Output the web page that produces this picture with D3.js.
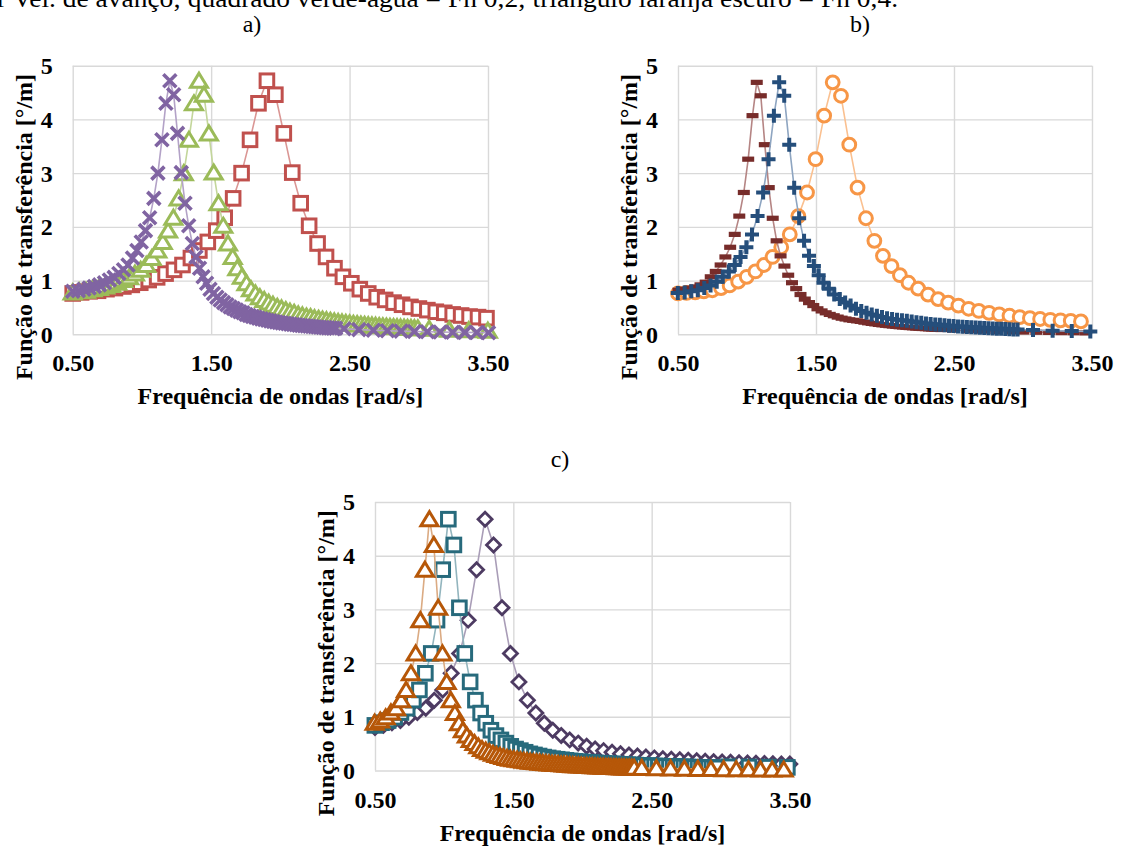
<!DOCTYPE html>
<html><head><meta charset="utf-8">
<script src="https://cdn.jsdelivr.net/npm/d3@7"></script>
<style>
body{margin:0;background:#fff}
svg{display:block}
text{font-family:"Liberation Serif","Times New Roman",serif}
</style>
</head><body>
<svg id="chart" width="1121" height="847"></svg>
<script>
// ---------- tick labels ----------
const xTicks = [0.5, 1.5, 2.5, 3.5];
const xTickLabels = ["0.50", "1.50", "2.50", "3.50"];
const yTicks = [0, 1, 2, 3, 4, 5];
const xTitle = "Frequência de ondas [rad/s]";
const yTitle = "Função de transferência [°/m]";

// ---------- panel a) ----------
const aY = [0.76,0.78,0.80,0.81,0.84,0.86,0.89,0.92,0.96,1.01,
 1.06,1.13,1.20,1.29,1.42,1.56,1.72,1.93,2.17,2.53,
 3.00,3.62,4.30,4.72,4.46,3.74,3.01,2.44,2.02,1.69,
 1.44,1.23,1.07,0.95,0.84,0.76,0.69,0.64,0.59,0.55,
 0.51,0.48,0.45,0.42,0.40,0.37,0.35,0.33,0.32,0.30,
 0.287,0.274,0.262,0.250,0.240,0.230,0.221,0.212,0.204,0.196,
 0.189,0.182,0.176,0.170,0.164,0.159,0.153,0.149,0.144,0.139,
 0.135,0.131,0.127,0.124,0.120,0.117,0.114,0.111];
const aYTail = [0.102,0.087,0.076,0.067,0.059,0.053,0.048,0.043,0.039,0.036,0.033,0.030];
const aRedX = [0.500,0.561,0.622,0.683,0.744,0.805,0.866,0.927,0.988,1.049,
 1.110,1.171,1.232,1.293,1.354,1.415,1.476,1.537,1.598,1.659,
 1.720,1.781,1.842,1.903,1.964,2.025,2.086,2.147,2.208,2.269,
 2.330,2.391,2.452,2.513,2.574,2.635,2.696,2.757,2.818,2.879,
 2.940,3.001,3.062,3.123,3.184,3.245,3.306,3.367,3.428,3.489];
const aGreenX = [0.4996,0.5481,0.5957,0.6425,0.6884,0.7336,0.7781,0.8219,0.8650,0.9074,
 0.9493,0.9906,1.0313,1.0715,1.1112,1.1504,1.1891,1.2274,1.2652,1.3026,
 1.3396,1.3761,1.4123,1.4481,1.4836,1.5187,1.5534,1.5878,1.6219,1.6557,
 1.6891,1.7223,1.7552,1.7878,1.8201,1.8521,1.8839,1.9154,1.9467,1.9778,
 2.0085,2.0391,2.0695,2.0996,2.1295,2.1591,2.1886,2.2179,2.2470,2.2759,
 2.3045,2.3330,2.3613,2.3895,2.4174,2.4452,2.4728,2.5002,2.5275,2.5546,
 2.5816,2.6084,2.6350,2.6615,2.6878,2.7140,2.7401,2.7660,2.7917,2.8174,
 2.8429,2.8682,2.8935,2.9186,2.9435,2.9684,2.9931];
const aGreenTailX = [3.075,3.220,3.361,3.499];
const aPurpleX = [0.5003,0.5408,0.5803,0.6189,0.6565,0.6934,0.7294,0.7648,0.7994,0.8334,
 0.8668,0.8997,0.9319,0.9637,0.9950,1.0257,1.0560,1.0859,1.1154,1.1445,
 1.1731,1.2015,1.2294,1.2571,1.2843,1.3113,1.3380,1.3643,1.3904,1.4162,
 1.4418,1.4670,1.4921,1.5168,1.5414,1.5657,1.5898,1.6136,1.6373,1.6607,
 1.6839,1.7069,1.7298,1.7524,1.7749,1.7972,1.8193,1.8413,1.8631,1.8847,
 1.9061,1.9274,1.9486,1.9696,1.9905,2.0112,2.0317,2.0522,2.0725,2.0927,
 2.1127,2.1326,2.1524,2.1721,2.1916,2.2111,2.2304,2.2496,2.2687,2.2876,
 2.3065,2.3253,2.3439,2.3625,2.3809,2.3993];
const aPurpleTailX = [2.460,2.567,2.672,2.773,2.872,2.968,3.062,3.154,3.245,3.333,3.419,3.504];

// ---------- panel b) ----------
const bY = [0.76,0.77,0.78,0.80,0.82,0.86,0.91,0.98,1.07,1.17,
 1.29,1.44,1.62,1.86,2.20,2.64,3.26,4.07,4.69,4.44,
 3.53,2.73,2.16,1.74,1.46,1.27,1.10,0.96,0.85,0.74,
 0.655,0.59,0.535,0.475,0.435,0.40,0.37,0.345,0.32,0.30,
 0.285,0.27,0.26,0.25,0.24,0.226,0.214,0.203,0.194,0.184,
 0.176,0.168,0.161,0.154,0.147,0.141,0.136,0.130,0.125,0.121,
 0.116,0.112,0.108,0.105,0.101,0.098,0.094,0.091,0.089];
const bYTail = [0.079,0.068,0.060,0.053,0.047,0.042,0.038,0.035,0.031,0.029,0.026];
const bRedYHead = [0.82,0.84,0.86,0.88,0.92,0.97];
const bOrangeX = [0.500,0.562,0.625,0.687,0.749,0.812,0.874,0.936,0.998,1.061,
 1.123,1.185,1.248,1.310,1.372,1.435,1.497,1.559,1.621,1.681,
 1.741,1.801,1.862,1.923,1.985,2.047,2.108,2.170,2.240,2.312,
 2.385,2.458,2.532,2.606,2.680,2.754,2.828,2.902,2.976,3.050,
 3.124,3.198,3.272,3.346,3.420];
const bRedX = [0.5034,0.5446,0.5848,0.6247,0.6630,0.7005,0.7372,0.7737,0.8089,0.8435,
 0.8780,0.9113,0.9441,0.9769,1.0087,1.0399,1.0707,1.1001,1.1291,1.1577,
 1.1864,1.2147,1.2432,1.2713,1.2986,1.3260,1.3566,1.3877,1.4188,1.4495,
 1.4803,1.5106,1.5407,1.5703,1.5997,1.6287,1.6574,1.6858,1.7140,1.7418,
 1.7693,1.7966,1.8237,1.8504,1.8770,1.9033,1.9293,1.9551,1.9808,2.0062,
 2.0313,2.0563,2.0811,2.1057,2.1301,2.1543,2.1783,2.2022,2.2259,2.2494,
 2.2727,2.2959,2.3189,2.3418,2.3645,2.3870,2.4094];
const bRedTailX = [2.4942,2.6015,2.7058,2.8073,2.9061,3.0026,3.0968,3.1888,3.2791,3.3673,3.4540];
const bBlueX = [0.4986,0.5483,0.5963,0.6434,0.6904,0.7359,0.7806,0.8246,0.8686,0.9112,
 0.9533,0.9954,1.0362,1.0765,1.1169,1.1561,1.1949,1.2332,1.2698,1.3060,
 1.3419,1.3779,1.4135,1.4494,1.4848,1.5194,1.5541,1.5929,1.6325,1.6721,
 1.7113,1.7506,1.7895,1.8280,1.8660,1.9038,1.9411,1.9782,2.0148,2.0512,
 2.0872,2.1228,2.1582,2.1933,2.2281,2.2626,2.2968,2.3307,2.3644,2.3978,
 2.4310,2.4639,2.4966,2.5290,2.5612,2.5932,2.6250,2.6565,2.6878,2.7189,
 2.7498,2.7805,2.8110,2.8413,2.8714,2.9014,2.9311,2.9607];
const bBlueTailX = [3.0725,3.2147,3.3532,3.4878];

// ---------- panel c) ----------
const cY = [0.80,0.84,0.89,0.93,0.99,1.08,1.16,1.31,1.50,1.81,
 2.18,2.80,3.74,4.68,4.20,3.03,2.18,1.65,1.31,1.07,
 0.88,0.75,0.65,0.57,0.51,0.45,0.40,0.37,0.34,0.31,
 0.29,0.27,0.25,0.235,0.22,0.21,0.20,0.19,0.18,0.172,
 0.165,0.158,0.152,0.146,0.141,0.136,0.131,0.127,0.123,0.12,
 0.116,0.112,0.108,0.104,0.100,0.097,0.094,0.091,0.088,0.085,
 0.082,0.080,0.077,0.075,0.073,0.071,0.069,0.067,0.065,0.063,
 0.061,0.059,0.058,0.056,0.055,0.053,0.052,0.050];
const cYTail = [0.047,0.042,0.037,0.033,0.030,0.027,0.025,0.023,0.021,0.019,0.018,0.017];
const cTealYTail = [0.070,0.066,0.062,0.058];
const cDiamondX = [0.5000,0.5612,0.6224,0.6836,0.7448,0.8060,0.8672,0.9284,0.9896,1.0508,
 1.1120,1.1732,1.2344,1.2956,1.3568,1.4180,1.4792,1.5404,1.6016,1.6628,
 1.7240,1.7852,1.8464,1.9076,1.9688,2.0300,2.0912,2.1524,2.2136,2.2748,
 2.3360,2.3972,2.4584,2.5196,2.5808,2.6420,2.7032,2.7644,2.8256,2.8868,
 2.9480,3.0092,3.0704,3.1316,3.1928,3.2540,3.3152,3.3764,3.4376,3.4988];
const cTealX = [0.4990,0.5475,0.5951,0.6418,0.6877,0.7329,0.7773,0.8211,0.8641,0.9065,
 0.9484,0.9896,1.0302,1.0704,1.1100,1.1491,1.1877,1.2259,1.2636,1.3009,
 1.3378,1.3743,1.4103,1.4460,1.4814,1.5164,1.5510,1.5853,1.6193,1.6529,
 1.6863,1.7194,1.7521,1.7846,1.8168,1.8487,1.8804,1.9118,1.9430,1.9739,
 2.0046,2.0350,2.0653,2.0953,2.1250,2.1546,2.1840,2.2131,2.2421,2.2708,
 2.2994,2.3278,2.3560,2.3840,2.4118,2.4395,2.4669,2.4943,2.5214,2.5484,
 2.5752,2.6019,2.6284,2.6548,2.6810,2.7071,2.7330,2.7588,2.7845,2.8100,
 2.8354,2.8606,2.8857,2.9107,2.9356,2.9603,2.9849];
const cTealTailX = [3.0596,3.2038,3.3442,3.4809];
const cOrangeX = [0.4976,0.5378,0.5770,0.6152,0.6526,0.6891,0.7248,0.7598,0.7942,0.8278,
 0.8609,0.8934,0.9253,0.9567,0.9876,1.0181,1.0480,1.0776,1.1067,1.1354,
 1.1638,1.1918,1.2194,1.2467,1.2736,1.3003,1.3266,1.3527,1.3784,1.4039,
 1.4291,1.4540,1.4787,1.5032,1.5274,1.5514,1.5751,1.5987,1.6220,1.6451,
 1.6681,1.6908,1.7133,1.7357,1.7578,1.7798,1.8016,1.8233,1.8448,1.8661,
 1.8873,1.9083,1.9291,1.9498,1.9704,1.9908,2.0111,2.0313,2.0513,2.0712,
 2.0909,2.1105,2.1301,2.1495,2.1687,2.1879,2.2069,2.2258,2.2446,2.2633,
 2.2819,2.3004,2.3188,2.3371,2.3553,2.3734];
const cOrangeTailX = [2.4283,2.5339,2.6365,2.7363,2.8335,2.9283,3.0208,3.1113,3.1998,3.2865,3.3714,3.4547];

// ---------- build ----------
function pair(xs, ys, off) { return xs.map((x, i) => ({ x: x, y: ys[off + i] })); }

const bRedPts = pair(bRedX, bY, 2);
bRedYHead.forEach((v, i) => { bRedPts[i].y = v; });

const panels = [
  { label: "a)", lx: 252, ly: 32, L: 72.7, R: 488, T: 65.7, B: 334.3,
    series: [
      { pts: pair(aRedX, aY, 0), color: "#C0504D", line: "#DA9694", marker: "square" },
      { pts: pair(aGreenX, aY, 1).concat(pair(aGreenTailX, aYTail, 0)), color: "#9BBB59", line: "#C3D69B", marker: "triangle" },
      { pts: pair(aPurpleX, aY, 2).concat(pair(aPurpleTailX, aYTail, 0)), color: "#8064A2", line: "#B3A2C7", marker: "x" }
    ] },
  { label: "b)", lx: 860, ly: 32, L: 678, R: 1092, T: 65.7, B: 334.3,
    series: [
      { pts: pair(bOrangeX, bY, 0), color: "#F79646", line: "#FAC090", marker: "circle" },
      { pts: bRedPts.concat(pair(bRedTailX, bYTail, 0)), color: "#772C2A", line: "#B58584", marker: "dash" },
      { pts: pair(bBlueX, bY, 1).concat(pair(bBlueTailX, bYTail, 0)), color: "#254E7B", line: "#8EA5C1", marker: "plus" }
    ] },
  { label: "c)", lx: 560, ly: 467, L: 375, R: 790, T: 502, B: 770.5,
    series: [
      { pts: pair(cDiamondX, cY, 0), color: "#4D3B62", line: "#A99DB7", marker: "diamond" },
      { pts: pair(cTealX, cY, 1).concat(pair(cTealTailX, cTealYTail, 0)), color: "#276A7C", line: "#93B5BE", marker: "square" },
      { pts: pair(cOrangeX, cY, 2).concat(pair(cOrangeTailX, cYTail, 0)), color: "#B65708", line: "#DBAB83", marker: "triangle" }
    ] }
];

const svg = d3.select("#chart");

// caption line at the very top (partly outside the picture, as in the original)
svg.append("text").attr("x", -3).attr("y", 7).attr("font-size", 26).attr("fill", "#000")
  .attr("textLength", 901).attr("lengthAdjust", "spacingAndGlyphs")
  .text("r Vel. de avanço; quadrado verde-água = Fn 0,2; triângulo laranja escuro = Fn 0,4.");

const symbolPaths = {
  triangle: "M0,-7.5L8.5,6.5L-8.5,6.5Z",
  diamond: "M0,-7L7,0L0,7L-7,0Z"
};

panels.forEach(p => {
  const x = d3.scaleLinear().domain([0.5, 3.5]).range([p.L, p.R]);
  const y = d3.scaleLinear().domain([0, 5]).range([p.B, p.T]);
  const g = svg.append("g");
  const W = p.R - p.L, H = p.B - p.T;

  svg.append("text").attr("x", p.lx).attr("y", p.ly).attr("text-anchor", "middle")
    .attr("font-size", 24).text(p.label);

  const gy = g.append("g").attr("transform", `translate(${p.L},0)`)
    .call(d3.axisLeft(y).tickValues(yTicks).tickFormat(d3.format("d")).tickSize(-W).tickPadding(20));
  gy.select(".domain").remove();
  gy.selectAll(".tick line").attr("stroke", "#D9D9D9").attr("stroke-width", 1.4);
  gy.selectAll(".tick text").attr("font-size", 24).attr("font-weight", "bold")
    .attr("font-family", "Liberation Serif, Times New Roman, serif").attr("fill", "#000").attr("dy", "0.33em");

  const gx = g.append("g").attr("transform", `translate(0,${p.B})`)
    .call(d3.axisBottom(x).tickValues(xTicks).tickFormat((d, i) => xTickLabels[i]).tickSize(-H));
  gx.select(".domain").remove();
  gx.selectAll(".tick line").attr("stroke", "#D9D9D9").attr("stroke-width", 1.4);
  gx.selectAll(".tick text").attr("font-size", 24).attr("font-weight", "bold")
    .attr("font-family", "Liberation Serif, Times New Roman, serif").attr("fill", "#000")
    .attr("y", 37).attr("dy", 0);

  svg.append("text").attr("x", (p.L + p.R) / 2).attr("y", p.B + 70).attr("text-anchor", "middle")
    .attr("font-size", 24).attr("font-weight", "bold").text(xTitle);
  svg.append("text").attr("transform", `translate(${p.L - 41},${(p.T + p.B) / 2 + 27}) rotate(-90)`)
    .attr("text-anchor", "middle").attr("font-size", 24).attr("font-weight", "bold").text(yTitle);

  const line = d3.line().x(d => x(d.x)).y(d => y(d.y));
  p.series.forEach(s => {
    const pts = s.pts.filter(d => d.x <= 3.52);
    const sg = g.append("g");
    sg.append("path").datum(pts).attr("d", line).attr("fill", "none")
      .attr("stroke", s.line).attr("stroke-width", 1.6);
    const m = sg.selectAll("g.m").data(pts).enter().append("g")
      .attr("transform", d => `translate(${x(d.x)},${y(d.y)})`);
    if (s.marker === "square") {
      m.append("rect").attr("x", -6.8).attr("y", -6.8).attr("width", 13.6).attr("height", 13.6)
        .attr("fill", "#fff").attr("stroke", s.color).attr("stroke-width", 3);
    } else if (s.marker === "triangle" || s.marker === "diamond") {
      m.append("path").attr("d", symbolPaths[s.marker]).attr("fill", "#fff")
        .attr("stroke", s.color).attr("stroke-width", s.marker === "diamond" ? 2.8 : 3)
        .attr("stroke-linejoin", "miter");
    } else if (s.marker === "x") {
      m.append("path").attr("d", "M-6.5,-6.5L6.5,6.5M-6.5,6.5L6.5,-6.5")
        .attr("stroke", s.color).attr("stroke-width", 3.6).attr("fill", "none");
    } else if (s.marker === "plus") {
      m.append("path").attr("d", "M-7,0L7,0M0,-7L0,7")
        .attr("stroke", s.color).attr("stroke-width", 4).attr("fill", "none");
    } else if (s.marker === "circle") {
      m.append("circle").attr("r", 6.4).attr("fill", "#fff")
        .attr("stroke", s.color).attr("stroke-width", 3);
    } else if (s.marker === "dash") {
      m.append("rect").attr("x", -6).attr("y", -2.6).attr("width", 12).attr("height", 5.2)
        .attr("fill", s.color);
    }
  });
});
</script>
</body></html>
